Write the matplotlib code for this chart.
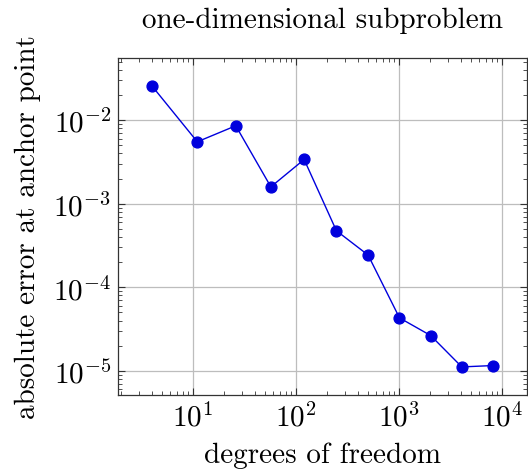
import matplotlib
matplotlib.use("Agg")
import matplotlib.pyplot as plt
import numpy as np
from matplotlib.ticker import LogLocator, NullFormatter

plt.rcParams["font.family"] = "serif"
plt.rcParams["font.serif"] = ["cmr10"]
plt.rcParams["mathtext.fontset"] = "cm"
plt.rcParams["axes.formatter.use_mathtext"] = True
plt.rcParams["axes.unicode_minus"] = False

# values
dofs = [4, 11, 26, 57, 120, 247, 502, 1013, 2036, 4083, 8178]
errors = [2.55e-2, 5.5e-3, 8.55e-3, 1.59e-3, 3.38e-3, 4.75e-4,
          2.43e-4, 4.31e-5, 2.65e-5, 1.117e-5, 1.16e-5]

fig = plt.figure(figsize=(5.28, 4.77), dpi=100)
ax = fig.add_axes([0.2235, 0.1698, 0.7745, 0.7065])

ax.plot(dofs, errors, color="#0000dd", linewidth=1.0, marker="o",
        markersize=7.8, zorder=3)

ax.set_xscale("log")
ax.set_yscale("log")

# pgfplots-style 10% enlargement of limits (in log space)
lx = np.log10([min(dofs), max(dofs)])
ly = np.log10([min(errors), max(errors)])
dx = 0.1 * (lx[1] - lx[0])
dy = 0.1 * (ly[1] - ly[0])
ax.set_xlim(10 ** (lx[0] - dx), 10 ** (lx[1] + dx))
ax.set_ylim(10 ** (ly[0] - dy), 10 ** (ly[1] + dy))

ax.xaxis.set_major_locator(LogLocator(base=10, numticks=10))
ax.yaxis.set_major_locator(LogLocator(base=10, numticks=10))
ax.xaxis.set_minor_locator(LogLocator(base=10, subs=range(2, 10), numticks=50))
ax.yaxis.set_minor_locator(LogLocator(base=10, subs=range(2, 10), numticks=50))
ax.xaxis.set_minor_formatter(NullFormatter())
ax.yaxis.set_minor_formatter(NullFormatter())

ax.grid(True, which="major", color="#bdbdbd", linewidth=0.9)
ax.tick_params(which="both", direction="in", top=True, right=True,
               labelsize=21, color="#333333")
ax.tick_params(which="major", length=5, width=0.8, pad=5)
ax.tick_params(which="minor", length=3, width=0.6)
for s in ax.spines.values():
    s.set_color("#333333")
    s.set_linewidth(0.9)

ax.set_xlabel("degrees of freedom", fontsize=21, labelpad=7)
ax.set_ylabel("absolute error at anchor point", fontsize=21, labelpad=9)
ax.set_title("one-dimensional subproblem", fontsize=21, pad=22)

fig.savefig("out.png", dpi=100)
